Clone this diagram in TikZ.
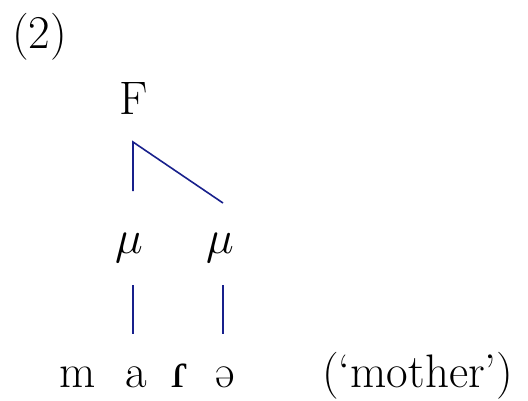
\documentclass[tikz,border=0pt]{standalone}
\usepackage{fix-cm}
\usepackage{fontspec}
\newfontfamily\ipafont{Liberation Serif}
\definecolor{linkblue}{RGB}{24,32,140}
\begin{document}
\begin{tikzpicture}[x=1pt,y=-1pt,
  lbl/.style={anchor=base,inner sep=0pt,font=\fontsize{47}{56}\selectfont},
  link/.style={draw=linkblue,line width=1.6pt}]
\useasboundingbox (0,0) rectangle (528,400);
\node[lbl,anchor=base west] (num) at (12,48) {(2)};
\node[lbl] (F) at (134,114) {F};
\node[lbl] (mu1) at (129,253) {$\mu$};
\node[lbl] (mu2) at (220,253) {$\mu$};
\node[lbl] (m) at (78,387) {m};
\node[lbl] (a) at (136,387) {a};
\node[lbl,font=\fontsize{50}{60}\ipafont] (r) at (180,387) {ɾ};
\node[lbl] (schwa) at (225,387) {ə};
\node[lbl,anchor=base west] (gloss) at (322,387) {(‘mother’)};
\coordinate (Fa) at (133,142);
\coordinate (m1t) at (133,191);
\coordinate (m2t) at (223,203);
\coordinate (m1b) at (133,285);
\coordinate (m2b) at (223,285);
\coordinate (at) at (133,334);
\coordinate (st) at (223,334);
\draw[link] (m1t) -- (Fa) -- (m2t);
\draw[link] (m1b) -- (at);
\draw[link] (m2b) -- (st);
\end{tikzpicture}
\end{document}
